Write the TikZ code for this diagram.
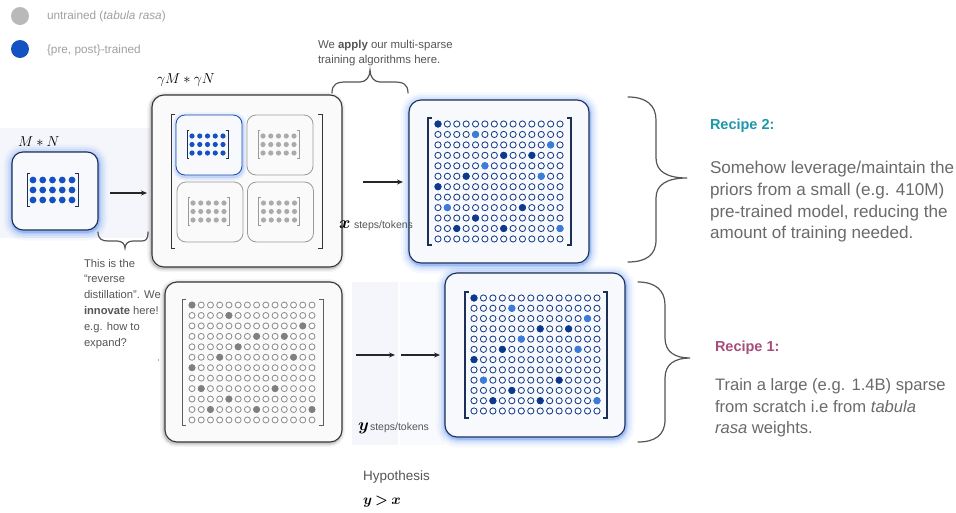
\documentclass[tikz,border=0pt]{standalone}
\usepackage{fontspec}
\setmainfont{Liberation Sans}
\usepackage{amsmath,bm}
\usetikzlibrary{arrows.meta}

\definecolor{navy}{HTML}{1C2F57}
\definecolor{ringblue}{HTML}{173D8A}
\definecolor{dotdark}{HTML}{0C3A8F}
\definecolor{dotlight}{HTML}{3B7DDD}
\definecolor{trained}{HTML}{1452C4}
\definecolor{untrained}{HTML}{B9B9B9}
\definecolor{glowblue}{HTML}{3D7BF0}
\definecolor{boxfill}{HTML}{F7F9FD}
\definecolor{grayfill}{HTML}{FAFAFB}
\definecolor{graydark}{HTML}{363636}
\definecolor{graymid}{HTML}{9A9A9A}
\definecolor{ringgray}{HTML}{8E8E8E}
\definecolor{dotgray}{HTML}{808080}
\definecolor{smallgray}{HTML}{ABABAB}
\definecolor{panel}{HTML}{F4F6FB}
\definecolor{legendgray}{HTML}{A0A0A0}
\definecolor{notegray}{HTML}{555555}
\definecolor{bodygray}{HTML}{6A6A6A}
\definecolor{bracegray}{HTML}{555555}
\definecolor{teal}{HTML}{1E98A8}
\definecolor{plum}{HTML}{A64D7B}

\tikzset{
  every node/.style={inner sep=0pt, outer sep=0pt},
  glowring/.style 2 args={preaction={draw=glowblue, fill=none, line width=#1, draw opacity=#2,
      transform canvas={shift={(0.5pt,-1.5pt)}}}},
  glow/.style={glowring={18pt}{0.05}, glowring={13pt}{0.07}, glowring={9pt}{0.10},
      glowring={5pt}{0.16}, glowring={2.5pt}{0.25}},
  softglow/.style={glowring={9pt}{0.05}, glowring={6pt}{0.09}, glowring={3pt}{0.16}},
  shadowring/.style 2 args={preaction={draw=black, fill=none, line width=#1, draw opacity=#2,
      transform canvas={shift={(-0.8pt,-1.2pt)}}}},
  dropshadow/.style={shadowring={8pt}{0.04}, shadowring={5pt}{0.07}, shadowring={2.5pt}{0.12}},
  bluebox/.style={draw=navy, line width=1.1pt, fill=boxfill, glow},
  graybox/.style={draw=graydark, line width=1.1pt, fill=grayfill, dropshadow},
  tilebox/.style={draw=graymid, line width=0.8pt, fill=grayfill, rounded corners=9pt,
      minimum width=66pt, minimum height=60pt},
  arr/.style={-{Stealth[length=6pt,width=5pt]}, line width=1.2pt, color=black!85},
  bracestyle/.style={draw=bracegray, line width=1.2pt, line cap=round},
  legtext/.style={font=\fontsize{11.8}{14}\selectfont, text=legendgray},
  note/.style={font=\fontsize{11.2}{15.8}\selectfont, text=notegray, align=left},
  recipehead/.style={font=\fontsize{14.5}{17}\selectfont\bfseries},
  recipebody/.style={font=\fontsize{16.6}{21.8}\selectfont, text=bodygray, align=left},
  steplabel/.style={font=\fontsize{10.5}{12}\selectfont, text=notegray},
}

% square bracket pair: x1, y1, x2, y2, line width, colour, serif length
\newcommand{\sqbracket}[7]{%
  \draw[#6, line width=#5] ({#1+#7},{#2}) -- ({#1},{#2}) -- ({#1},{#4}) -- ({#1+#7},{#4});
  \draw[#6, line width=#5] ({#3-#7},{#2}) -- ({#3},{#2}) -- ({#3},{#4}) -- ({#3-#7},{#4});}

% dense 5x3 block: centre x, centre y, dx, dy, radius, dot colour, bracket colour
\newcommand{\blockmat}[7]{%
  \foreach \row in {-1,0,1}{\foreach \col in {-2,...,2}{%
    \fill[#6] ({#1+\col*#3},{#2+\row*#4}) circle[radius=#5pt];}}
  \sqbracket{#1-2*#3-#5-2.5}{#2-#4-#5-3}{#1+2*#3+#5+2.5}{#2+#4+#5+3}{0.8pt}{#7}{2.5}}

% non-zero entries of the sparse 12x14 weight matrix: row/column/kind
\newcommand{\hotcells}{0/0/1,1/4/2,2/12/2,3/7/1,3/10/1,4/5/2,5/3/1,5/11/2,6/0/1,8/1/2,8/9/1,9/4/1,10/2/1,10/7/1,10/13/2}

% sparse grid: first x, first y, dx, dy, radius, ring colour, dark fill, light fill
\newcommand{\sparsegrid}[8]{%
  \foreach \row in {0,...,11}{\foreach \col in {0,...,13}{%
    \draw[#6, fill=white, line width=0.85pt] ({#1+\col*#3},{#2+\row*#4}) circle[radius=#5pt];}}
  \foreach \row/\col/\kind in \hotcells {%
    \ifnum\kind=1 \def\dotcol{#7}\else\def\dotcol{#8}\fi
    \fill[\dotcol] ({#1+\col*#3},{#2+\row*#4}) circle[radius=#5pt+0.45pt];}}

\begin{document}
\begin{tikzpicture}[x=1pt,y=-1pt]
\useasboundingbox (0,0) rectangle (956,512);

% pale backdrops
\fill[panel] (0,128) rectangle (150,238);
\fill[panel] (352,282) rectangle (398,445);
\fill[panel!50!white] (400,282) rectangle (445,445);

% legend
\node[circle, fill=untrained, minimum size=18pt] (lg1) at (20,16) {};
\node[circle, fill=trained, minimum size=18pt] (lg2) at (20,49) {};
\node[legtext, anchor=west] (lt1) at (47,16.5) {untrained (\textit{tabula rasa})};
\node[legtext, anchor=west] (lt2) at (47,50) {\{pre, post\}-trained};

% small pre-trained model
\node[bluebox, rounded corners=11pt, minimum width=86pt, minimum height=78pt] (mn) at (55,191) {};
\blockmat{52.5}{190}{9.75}{10}{3.4}{trained}{navy}
\node[anchor=base west, font=\fontsize{15}{15}\selectfont] (mnlab) at (18,146.5) {$M*N$};

% expansion arrow
\coordinate (a0s) at (110,193);
\coordinate (a0e) at (147,193);
\draw[arr] (a0s) -- (a0e);

% brace under the expansion step
\draw[bracestyle] (98,232) .. controls (98,239) and (102,241) .. (108,241) -- (117,241)
  .. controls (122,241) and (125,244) .. (125,248)
  .. controls (125,244) and (128,241) .. (133,241) -- (142,241)
  .. controls (146,241) and (148,239) .. (148,232);
\node[note, anchor=north west] (rev) at (84,259)
  {This is the\\“reverse\\distillation”. We\\\textbf{innovate} here!\\e.g. how to\\expand?};

% expanded model made of tiles
\node[graybox, rounded corners=12pt, minimum width=190pt, minimum height=172pt] (big) at (247,181) {};
\node[anchor=base west, font=\fontsize{14.5}{15}\selectfont] (biglab) at (157,83) {$\gamma M*\gamma N$};
\sqbracket{171}{114}{322}{248}{1pt}{graydark}{4}
\node[tilebox, draw=trained!80!navy, fill=boxfill, softglow] (q1) at (209,145) {};
\node[tilebox] (q2) at (280,145) {};
\node[tilebox] (q3) at (210,212) {};
\node[tilebox] (q4) at (280.5,212) {};
\blockmat{207.5}{144.5}{7.75}{8.5}{2.6}{trained}{navy}
\blockmat{278.5}{144.5}{7.75}{8.5}{2.6}{smallgray}{graymid}
\blockmat{208.5}{211.5}{7.75}{8.5}{2.6}{smallgray}{graymid}
\blockmat{279}{211.5}{7.75}{8.5}{2.6}{smallgray}{graymid}

% brace over the sparse training step
\draw[bracestyle] (332,93) .. controls (332,84) and (337,82) .. (346,82) -- (360,82)
  .. controls (366,82) and (370,77) .. (370,70)
  .. controls (370,77) and (374,82) .. (380,82) -- (394,82)
  .. controls (403,82) and (408,84) .. (408,93);
\node[note, anchor=north west, font=\fontsize{11.4}{15}\selectfont] (apply) at (318,40)
  {We \textbf{apply} our multi-sparse\\training algorithms here.};

% sparse model grown from the small one
\node[bluebox, rounded corners=12pt, minimum width=180pt, minimum height=163pt] (ur) at (499,181.5) {};
\sqbracket{428}{118}{571}{245}{1.2pt}{navy}{4}
\sparsegrid{438}{124}{9.385}{10.45}{3.1}{ringblue}{dotdark}{dotlight}

\coordinate (axs) at (363,182);
\coordinate (axe) at (403,182);
\draw[arr] (axs) -- (axe);
\node[anchor=base west, font=\fontsize{16}{16}\selectfont] (xsym) at (339,228) {$\bm{x}$};
\node[steplabel, anchor=base west] (xsteps) at (354,228) {steps/tokens};

% sparse model from scratch
\node[graybox, rounded corners=12pt, minimum width=177pt, minimum height=160pt] (ll) at (253.5,362) {};
\sqbracket{182}{299}{323}{425}{1pt}{graydark!80}{4}
\sparsegrid{192}{305}{9.23}{10.45}{3.0}{ringgray}{dotgray}{dotgray}
\fill[notegray] (158.5,360) circle[radius=0.7pt];

\node[bluebox, rounded corners=12pt, minimum width=180pt, minimum height=164pt] (lr) at (535,355) {};
\sqbracket{465}{292}{607}{418}{1.2pt}{navy}{4}
\sparsegrid{474}{298}{9.46}{10.27}{3.1}{ringblue}{dotdark}{dotlight}

\coordinate (ay1s) at (356,355);
\coordinate (ay1e) at (395,355);
\coordinate (ay2s) at (401,355);
\coordinate (ay2e) at (440,355);
\draw[arr] (ay1s) -- (ay1e);
\draw[arr] (ay2s) -- (ay2e);
\node[anchor=base west, font=\fontsize{16}{16}\selectfont] (ysym) at (358,430) {$\bm{y}$};
\node[steplabel, anchor=base west] (ysteps) at (370,430) {steps/tokens};

% recipes
\draw[bracestyle] (628,97) .. controls (646,97) and (656,105) .. (656,120) -- (656,158)
  .. controls (656,172) and (668,178) .. (687,178)
  .. controls (668,178) and (656,184) .. (656,198) -- (656,240)
  .. controls (656,255) and (646,262) .. (628,262);
\node[recipehead, text=teal, anchor=base west] (r2h) at (710,129) {Recipe 2:};
\node[recipebody, font=\fontsize{17.1}{21.8}\selectfont, anchor=north west] (r2b) at (710,161.2)
  {Somehow leverage/maintain the\\priors from a small (e.g. 410M)\\pre-trained model, reducing the\\amount of training needed.};

\draw[bracestyle] (638,282) .. controls (655,282) and (665,290) .. (665,305) -- (665,338)
  .. controls (665,352) and (675,358) .. (690,358)
  .. controls (675,358) and (665,364) .. (665,378) -- (665,420)
  .. controls (665,435) and (655,442) .. (638,442);
\node[recipehead, text=plum, anchor=base west] (r1h) at (715,351.7) {Recipe 1:};
\node[recipebody, anchor=north west] (r1b) at (715,378.3)
  {Train a large (e.g. 1.4B) sparse\\from scratch i.e from \textit{tabula}\\\textit{rasa} weights.};

% hypothesis
\node[anchor=west, font=\fontsize{13.5}{15}\selectfont, text=notegray] (hyp) at (363,477) {Hypothesis};
\node[anchor=base west, font=\fontsize{14.5}{15}\selectfont] (hypeq) at (363,504)
  {$\bm{y}\mathbin{\bm{>}}\bm{x}$};

\end{tikzpicture}
\end{document}
